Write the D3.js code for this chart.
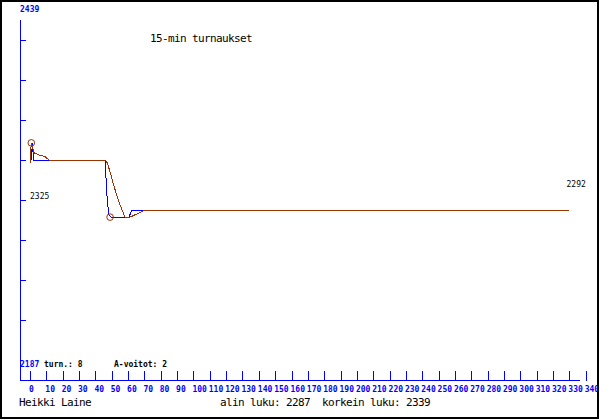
<!DOCTYPE html>
<html>
<head>
<meta charset="utf-8">
<script src="https://cdn.jsdelivr.net/npm/d3@7"></script>
<style>
  html, body { margin: 0; padding: 0; background: #fff; }
  svg { display: block; }
</style>
</head>
<body>
<svg id="chart" width="600" height="420"></svg>
<script>
// ---- data ----
const title = "15-min turnaukset";
const player = "Heikki Laine";
const lowLabel = "alin luku: 2287";
const highLabel = "korkein luku: 2339";
const yDomain = [2187, 2439];
const yTickValues = [2411, 2383, 2355, 2327, 2299, 2271, 2243, 2215, 2187];
const xTicks = [0,10,20,30,40,50,60,70,80,90,100,110,120,130,140,150,160,170,180,190,200,210,220,230,240,250,260,270,280,290,300,310,320,330,340];
const startValue = 2325;
const endValue = 2292;
const tournaments = 8;
const aWins = 2;

// blue series: results (minutes, rating)
const blueMinutes = [1.1, 1.3, 2.3, 45.9, 47.3, 48.3, 49.6, 60.6, 62.2, 330];
const blueValues  = [2327, 2339, 2327, 2327, 2298, 2288.5, 2287, 2287, 2292, 2292];

// brown series: smoothed rating
const brownMinutes = [0, 0.8, 2.5, 5.5, 9, 11.6, 45.9, 47.3, 49.0, 50.8, 53.0, 55.1, 56.9, 58.1, 61.2, 70.4, 330];
const brownValues  = [2325, 2339, 2332, 2330.5, 2329.5, 2327, 2327, 2325, 2318.6, 2311, 2302.5, 2295.5, 2290.6, 2287, 2287, 2292, 2292];

// extremes marked with circles
const extremeMinutes = [0.8, 49.0];
const extremeValues = [2339, 2287];

// ---- drawing ----
const svg = d3.select("#chart");
const blue = "#0000ff", brown = "#993300";
const mono = "'DejaVu Sans Mono', monospace";

const x = d3.scaleLinear().domain([0, 340]).range([30, 585.7]);
const y = d3.scaleLinear().domain(yDomain).range([360, 0]);

// frame
svg.append("rect").attr("x", 1).attr("y", 1).attr("width", 597).attr("height", 417)
  .attr("fill", "none").attr("stroke", "#000").attr("stroke-width", 2);

// y axis line
svg.append("line").attr("x1", 20.5).attr("x2", 20.5).attr("y1", 20).attr("y2", 380)
  .attr("stroke", blue).attr("shape-rendering", "crispEdges");
const yAxis = d3.axisRight(y).tickValues(yTickValues.slice(0, -1)).tickSize(5).tickFormat("");
const gy = svg.append("g").attr("transform", "translate(20.5,0)").call(yAxis);
gy.select(".domain").remove();
gy.selectAll(".tick line").attr("stroke", blue).attr("shape-rendering", "crispEdges");

// x axis line
svg.append("line").attr("x1", 20).attr("x2", 580).attr("y1", 380.5).attr("y2", 380.5)
  .attr("stroke", blue).attr("shape-rendering", "crispEdges");
const xAxis = d3.axisBottom(x).tickValues(xTicks).tickSizeInner(-10).tickSizeOuter(0).tickPadding(0);
const gx = svg.append("g").attr("transform", "translate(0,380.5)").call(xAxis);
gx.select(".domain").remove();
gx.selectAll(".tick line").attr("stroke", blue).attr("shape-rendering", "crispEdges");
gx.selectAll(".tick text")
  .attr("fill", blue).attr("font-family", mono).attr("font-weight", "bold").attr("font-size", 8)
  .attr("text-anchor", "start").attr("x", -1.5).attr("y", 11.5).attr("dy", null);

// y domain labels
svg.append("text").attr("x", 20).attr("y", 12).text(yDomain[1])
  .attr("fill", blue).attr("font-family", mono).attr("font-weight", "bold").attr("font-size", 8);
svg.append("text").attr("x", 20).attr("y", 366.5).text(yDomain[0])
  .attr("fill", blue).attr("font-family", mono).attr("font-weight", "bold").attr("font-size", 8);
svg.append("text").attr("x", 44).attr("y", 366.5).text("turn.: " + tournaments)
  .attr("fill", "#000").attr("font-family", mono).attr("font-weight", "bold").attr("font-size", 8);
svg.append("text").attr("x", 114).attr("y", 366.5).text("A-voitot: " + aWins)
  .attr("fill", "#000").attr("font-family", mono).attr("font-weight", "bold").attr("font-size", 8);

// lines
const line = d3.line().x(d => x(d[0])).y(d => y(d[1]));
svg.append("path").datum(d3.zip(blueMinutes, blueValues)).attr("d", line)
  .attr("fill", "none").attr("stroke", blue).attr("stroke-width", 1)
  .attr("shape-rendering", "crispEdges");
svg.append("path").datum(d3.zip(brownMinutes, brownValues)).attr("d", line)
  .attr("fill", "none").attr("stroke", brown).attr("stroke-width", 1)
  .attr("shape-rendering", "crispEdges");

// extremes
svg.selectAll("circle.ext").data(d3.zip(extremeMinutes, extremeValues)).join("circle")
  .attr("class", "ext").attr("cx", d => x(d[0])).attr("cy", d => y(d[1])).attr("r", 3.3)
  .attr("fill", "none").attr("stroke", brown).attr("stroke-width", 1);

// value labels
svg.append("text").attr("x", 30).attr("y", 199).text(startValue)
  .attr("fill", "#000").attr("font-family", mono).attr("font-size", 8);
svg.append("text").attr("x", 566.5).attr("y", 187).text(endValue)
  .attr("fill", "#000").attr("font-family", mono).attr("font-size", 8);

// title & footer
function bigText(xp, yp, s) {
  return svg.append("text").attr("x", xp).attr("y", yp).attr("xml:space", "preserve").text(s)
    .attr("fill", "#000").attr("font-family", mono).attr("font-size", 11)
    .attr("letter-spacing", -0.62);
}
bigText(150, 41.5, title);
bigText(19, 406, player);
bigText(220, 406, lowLabel + "  " + highLabel);
</script>
</body>
</html>
